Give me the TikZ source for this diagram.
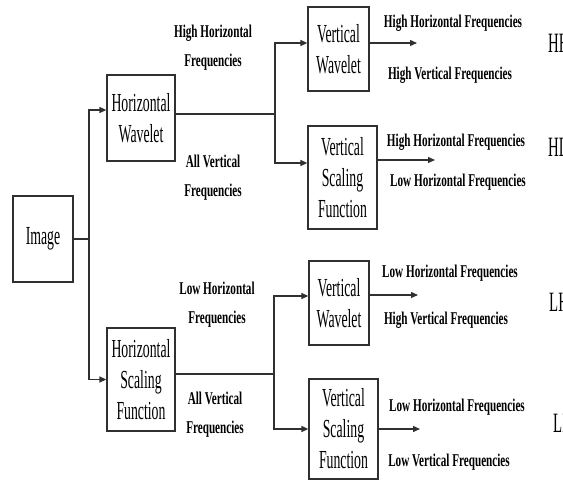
\documentclass[tikz,border=0pt]{standalone}
\usepackage{fontspec}
\usetikzlibrary{arrows.meta}
\newfontfamily\boxfont[FakeStretch=0.53]{Liberation Serif}
\newfontfamily\freqfont[FakeStretch=0.62]{Liberation Serif}
\definecolor{wvline}{HTML}{303030}

\begin{document}
\begin{tikzpicture}[
  x=1pt, y=-1pt,
  block/.style={draw=wvline, line width=1.3pt, align=center, inner sep=0pt, font=\boxfont\fontsize{26}{31}\selectfont},
  freq/.style={align=center, inner sep=0pt, font=\freqfont\bfseries\fontsize{18}{29}\selectfont},
  band/.style={inner sep=0pt, anchor=base west, font=\boxfont\fontsize{28}{30}\selectfont},
  link/.style={wvline, line width=1.3pt},
  feed/.style={link, -{Triangle[length=7pt,width=6pt]}}
]
\clip (0,0) rectangle (563,481);

\node[block, minimum width=60pt, minimum height=86pt] (img) at (43,239) {Image};

\node[block, minimum width=68pt, minimum height=86pt] (hw) at (141,118) {Horizontal\\Wavelet};
\node[block, minimum width=68pt, minimum height=103pt] (hs) at (141,379.5) {Horizontal\\Scaling\\Function};

\node[block, minimum width=61pt, minimum height=84pt] (vwa) at (338.5,49) {Vertical\\Wavelet};
\node[block, minimum width=69pt, minimum height=103pt] (vsa) at (342.5,177.5) {Vertical\\Scaling\\Function};
\node[block, minimum width=60pt, minimum height=84pt] (vwb) at (339,303) {Vertical\\Wavelet};
\node[block, minimum width=69pt, minimum height=100pt] (vsb) at (343.5,429) {Vertical\\Scaling\\Function};

% splitting points
\coordinate (imgsplit) at (89,239);
\coordinate (hwsplit) at (275,114);
\coordinate (hssplit) at (274,374);

\draw[link] (img.east) -- (imgsplit);
\draw[feed] (imgsplit) |- ([yshift=8pt]hw.west);
\draw[feed] (imgsplit) |- (hs.west);

\draw[link] ([yshift=4pt]hw.east) -- (hwsplit);
\draw[feed] (hwsplit) |- ([yshift=6pt]vwa.west);
\draw[feed] (hwsplit) |- ([yshift=14.5pt]vsa.west);

\draw[link] ([yshift=5.5pt]hs.east) -- (hssplit);
\draw[feed] (hssplit) |- ([yshift=7pt]vwb.west);
\draw[feed] (hssplit) |- (vsb.west);

\node[freq] (hwtop) at (213,48) {High Horizontal\\Frequencies};
\node[freq] (hwbot) at (213,178) {All Vertical\\Frequencies};
\node[freq] (hstop) at (217,305) {Low Horizontal\\Frequencies};
\node[freq] (hsbot) at (215,415) {All Vertical\\Frequencies};

% outputs
\coordinate (hhend) at (417,43);
\coordinate (hlend) at (435,160);
\coordinate (lhend) at (418,295);
\coordinate (llend) at (420,429);
\draw[feed] ([yshift=6pt]vwa.east) -- (hhend);
\draw[feed] ([yshift=17.5pt]vsa.east) -- (hlend);
\draw[feed] ([yshift=8pt]vwb.east) -- (lhend);
\draw[feed] (vsb.east) -- (llend);

\node[freq, anchor=base] (hha) at (453,28) {High Horizontal Frequencies};
\node[freq, anchor=base] (hhb) at (450,80) {High Vertical Frequencies};
\node[freq, anchor=base] (hla) at (456,147) {High Horizontal Frequencies};
\node[freq, anchor=base] (hlb) at (458,187) {Low Horizontal Frequencies};
\node[freq, anchor=base] (lha) at (450,278) {Low Horizontal Frequencies};
\node[freq, anchor=base] (lhb) at (446,325) {High Vertical Frequencies};
\node[freq, anchor=base] (lla) at (457,412) {Low Horizontal Frequencies};
\node[freq, anchor=base] (llb) at (449,467) {Low Vertical Frequencies};

\node[band] (hh) at (548,53) {HH};
\node[band] (hl) at (548,157) {HL};
\node[band] (lh) at (549,312) {LH};
\node[band] (ll) at (553,432) {LL};
\end{tikzpicture}
\end{document}
